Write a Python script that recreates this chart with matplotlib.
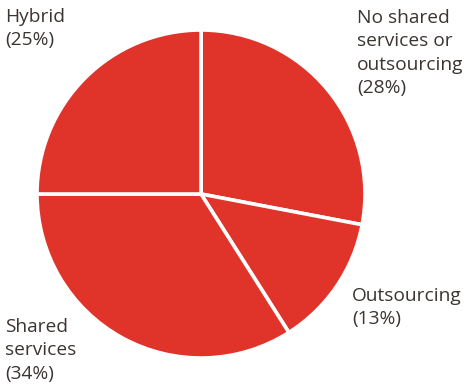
import matplotlib
matplotlib.use("Agg")
import matplotlib.pyplot as plt

# Share of organisations by delivery model (clockwise from 12 o'clock)
labels = ["No shared\nservices or\noutsourcing", "Outsourcing", "Shared\nservices", "Hybrid"]
shares = [28, 13, 34, 25]

red = "#e0332a"
ink = "#3b3431"

W, H = 466, 387
fig = plt.figure(figsize=(W / 100, H / 100), dpi=100)

cx, cy, r = 201, 194, 164
ax = fig.add_axes([(cx - r) / W, (H - cy - r) / H, 2 * r / W, 2 * r / H])
ax.pie(shares, startangle=90, counterclock=False, colors=[red] * len(shares),
       wedgeprops=dict(edgecolor="white", linewidth=2.6))
ax.set_xlim(-1, 1)
ax.set_ylim(-1, 1)
ax.axis("off")

# label positions (pixel coords of top-left corner of each text block)
label_pos = [(357, 9), (352, 287), (5, 318), (5, 8)]
for lab, val, (x, y) in zip(labels, shares, label_pos):
    fig.text(x / W, 1 - y / H, f"{lab}\n({val}%)", ha="left", va="top",
             fontsize=13.8, family="Open Sans", color=ink, linespacing=1.38)

fig.savefig("out.png", dpi=100)
